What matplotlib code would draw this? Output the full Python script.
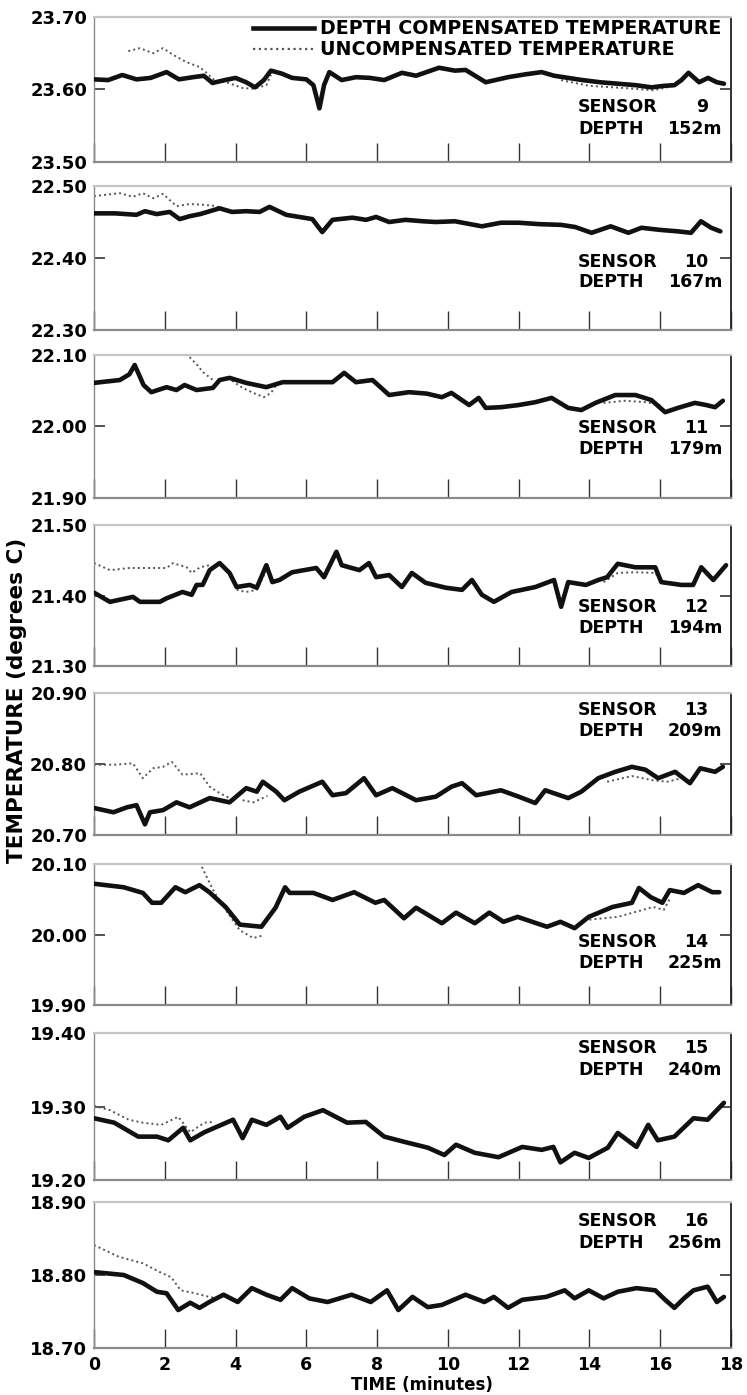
import numpy as np
import matplotlib
matplotlib.use("Agg")
import matplotlib.pyplot as plt
from matplotlib.lines import Line2D

nan = np.nan

# ---------------------------------------------------------------- data
sensors = [9, 10, 11, 12, 13, 14, 15, 16]
depths = ["152m", "167m", "179m", "194m", "209m", "225m", "240m", "256m"]
y_ranges = [(23.50, 23.70), (22.30, 22.50), (21.90, 22.10), (21.30, 21.50),
            (20.70, 20.90), (19.90, 20.10), (19.20, 19.40), (18.70, 18.90)]
x_ticks = [0, 2, 4, 6, 8, 10, 12, 14, 16, 18]

# sensor 9
t_comp_9 = [0, 0.4, 0.8, 1.2, 1.6, 2.05, 2.4, 2.8, 3.1, 3.35, 3.7, 4.0, 4.3, 4.55, 4.8,
            5.0, 5.3, 5.6, 6.0, 6.2, 6.37, 6.5, 6.65, 7.0, 7.4, 7.8, 8.2, 8.7, 9.1,
            9.75, 10.2, 10.5, 11.07, 11.7, 12.2, 12.65, 13.0, 13.4, 13.8, 14.3, 14.8,
            15.3, 15.75, 16.1, 16.4, 16.6, 16.8, 17.1, 17.35, 17.6, 17.8]
comp_9 = [23.614, 23.613, 23.620, 23.614, 23.616, 23.624, 23.614, 23.617, 23.619,
          23.609, 23.613, 23.616, 23.610, 23.603, 23.613, 23.626, 23.622, 23.616,
          23.614, 23.606, 23.574, 23.606, 23.624, 23.613, 23.617, 23.616, 23.613,
          23.623, 23.619, 23.630, 23.626, 23.627, 23.610, 23.617, 23.621, 23.624,
          23.619, 23.616, 23.613, 23.610, 23.608, 23.606, 23.603, 23.605, 23.606,
          23.613, 23.623, 23.610, 23.616, 23.610, 23.608]
t_unc_9 = [0.97, 1.3, 1.67, 1.95, 2.23, 2.6, 2.98, 3.18, 3.4, 3.8, 4.2, 4.5, 4.87, 5.0,
           5.05, 13.2, 14.0, 15.0, 15.8, 16.4]
unc_9 = [23.653, 23.657, 23.650, 23.657, 23.648, 23.638, 23.631, 23.623, 23.613,
         23.609, 23.602, 23.601, 23.606, 23.620, nan, 23.613, 23.605, 23.602,
         23.599, 23.605]

# sensor 10
t_comp_10 = [0, 0.6, 1.2, 1.44, 1.77, 2.14, 2.42, 2.7, 3.0, 3.55, 3.9, 4.3, 4.68, 4.96,
             5.43, 5.8, 6.17, 6.45, 6.74, 7.3, 7.69, 7.97, 8.34, 8.8, 9.3, 9.66, 10.2,
             10.96, 11.5, 12.0, 12.6, 13.2, 13.6, 14.06, 14.6, 15.1, 15.47, 16.0, 16.5,
             16.87, 17.15, 17.44, 17.7]
comp_10 = [22.462, 22.462, 22.460, 22.465, 22.461, 22.464, 22.454, 22.458, 22.461,
           22.469, 22.464, 22.465, 22.464, 22.471, 22.460, 22.457, 22.454, 22.436,
           22.453, 22.456, 22.453, 22.457, 22.450, 22.453, 22.451, 22.450, 22.451,
           22.444, 22.449, 22.449, 22.447, 22.446, 22.443, 22.435, 22.444, 22.435,
           22.442, 22.439, 22.437, 22.435, 22.451, 22.442, 22.437]
t_unc_10 = [0, 0.73, 1.1, 1.38, 1.67, 1.95, 2.33, 2.7, 3.07, 3.46, 3.6]
unc_10 = [22.486, 22.490, 22.485, 22.490, 22.483, 22.489, 22.472, 22.475, 22.474,
          22.472, 22.469]

# sensor 11
t_comp_11 = [0, 0.73, 1.0, 1.15, 1.4, 1.62, 2.05, 2.33, 2.56, 2.9, 3.36, 3.55, 3.83,
             4.3, 4.87, 5.33, 6.0, 6.74, 7.07, 7.4, 7.87, 8.34, 8.9, 9.4, 9.83, 10.1,
             10.6, 10.87, 11.07, 11.5, 12.0, 12.47, 12.93, 13.4, 13.77, 14.17, 14.73,
             15.3, 15.75, 16.14, 16.5, 16.98, 17.3, 17.55, 17.77]
comp_11 = [22.061, 22.065, 22.073, 22.086, 22.058, 22.048, 22.055, 22.051, 22.058,
           22.051, 22.054, 22.065, 22.068, 22.061, 22.055, 22.062, 22.062, 22.062,
           22.075, 22.062, 22.065, 22.044, 22.048, 22.046, 22.041, 22.047, 22.030,
           22.040, 22.026, 22.027, 22.030, 22.034, 22.040, 22.026, 22.023, 22.033,
           22.044, 22.044, 22.037, 22.020, 22.026, 22.033, 22.030, 22.027, 22.036]
t_unc_11 = [2.7, 2.9, 3.08, 3.36, 3.6, 3.9, 4.2, 4.5, 4.8, 5.0, 5.15, 5.2,
            14.4, 15.0, 15.6, 16.0]
unc_11 = [22.097, 22.087, 22.076, 22.065, nan, 22.064, 22.054, 22.047, 22.041,
          22.047, 22.058, nan, 22.033, 22.036, 22.034, 22.030]

# sensor 12
t_comp_12 = [0, 0.45, 1.1, 1.3, 1.86, 2.05, 2.5, 2.76, 2.9, 3.07, 3.27, 3.55, 3.83,
             4.03, 4.4, 4.6, 4.87, 5.04, 5.24, 5.6, 6.28, 6.5, 6.85, 7.0, 7.5, 7.77,
             7.97, 8.34, 8.7, 8.98, 9.37, 9.94, 10.4, 10.68, 10.96, 11.3, 11.8, 12.47,
             13.0, 13.2, 13.4, 13.9, 14.25, 14.5, 14.8, 15.3, 15.86, 16.03, 16.6,
             16.93, 17.16, 17.5, 17.86]
comp_12 = [21.404, 21.391, 21.398, 21.391, 21.391, 21.396, 21.405, 21.401, 21.415,
           21.415, 21.436, 21.446, 21.432, 21.412, 21.415, 21.411, 21.443, 21.419,
           21.422, 21.433, 21.439, 21.426, 21.462, 21.443, 21.436, 21.446, 21.426,
           21.429, 21.412, 21.432, 21.418, 21.411, 21.408, 21.422, 21.401, 21.391,
           21.405, 21.412, 21.422, 21.384, 21.419, 21.415, 21.422, 21.426, 21.445,
           21.440, 21.440, 21.419, 21.415, 21.415, 21.440, 21.422, 21.443]
t_unc_12 = [0, 0.45, 1.0, 1.5, 2.05, 2.23, 2.62, 2.76, 3.0, 3.27, 3.5,
            4.03, 4.3, 4.6, 4.87, 4.9, 14.4, 14.8, 15.3, 15.86, 16.0]
unc_12 = [21.446, 21.436, 21.439, 21.439, 21.439, 21.446, 21.440, 21.432, 21.440,
          21.443, nan, 21.408, 21.405, 21.408, 21.436, nan, 21.419, 21.432, 21.433,
          21.432, 21.422]

# sensor 13
t_comp_13 = [0, 0.55, 0.93, 1.2, 1.44, 1.58, 1.95, 2.33, 2.7, 3.27, 3.83, 4.3, 4.6,
             4.77, 5.15, 5.38, 5.8, 6.45, 6.74, 7.12, 7.63, 7.97, 8.43, 9.1, 9.66, 10.1,
             10.4, 10.8, 11.5, 12.0, 12.47, 12.75, 13.4, 13.77, 14.25, 14.73, 15.2,
             15.58, 15.94, 16.42, 16.84, 17.13, 17.55, 17.77]
comp_13 = [20.738, 20.732, 20.739, 20.742, 20.715, 20.732, 20.735, 20.746, 20.739,
           20.752, 20.746, 20.766, 20.761, 20.775, 20.761, 20.749, 20.761, 20.775,
           20.756, 20.759, 20.780, 20.756, 20.766, 20.749, 20.754, 20.768, 20.773,
           20.756, 20.763, 20.754, 20.745, 20.763, 20.752, 20.761, 20.780, 20.789,
           20.796, 20.792, 20.780, 20.789, 20.773, 20.794, 20.789, 20.796]
t_unc_13 = [0, 0.6, 1.1, 1.38, 1.67, 1.95, 2.2, 2.5, 3.0, 3.27, 3.55, 3.83, 3.9,
            4.2, 4.5, 4.9, 5.0, 14.5, 15.2, 15.8, 16.2, 16.6]
unc_13 = [20.799, 20.799, 20.801, 20.780, 20.794, 20.796, 20.803, 20.785, 20.787,
          20.768, 20.759, 20.752, nan, 20.749, 20.746, 20.755, nan, 20.775, 20.783,
          20.777, 20.775, 20.780]

# sensor 14
t_comp_14 = [0, 0.84, 1.38, 1.64, 1.9, 2.3, 2.58, 2.98, 3.26, 3.72, 4.12, 4.73, 5.13,
             5.4, 5.53, 6.2, 6.74, 7.35, 7.95, 8.2, 8.76, 9.1, 9.83, 10.23, 10.76,
             11.17, 11.57, 11.97, 12.5, 12.8, 13.18, 13.58, 13.98, 14.65, 15.2, 15.4,
             15.73, 16.06, 16.27, 16.67, 17.07, 17.47, 17.67]
comp_14 = [20.072, 20.067, 20.059, 20.045, 20.045, 20.067, 20.060, 20.070, 20.060,
           20.039, 20.014, 20.011, 20.038, 20.067, 20.059, 20.059, 20.049, 20.060,
           20.045, 20.049, 20.023, 20.038, 20.016, 20.031, 20.016, 20.031, 20.018,
           20.025, 20.016, 20.011, 20.018, 20.009, 20.025, 20.039, 20.045, 20.066,
           20.053, 20.045, 20.063, 20.059, 20.070, 20.060, 20.060]
t_unc_14 = [3.05, 3.2, 3.4, 3.72, 4.12, 4.5, 4.8, 4.9, 14.0, 14.8, 15.3, 15.8, 16.1, 16.3]
unc_14 = [20.096, 20.080, 20.060, 20.035, 20.006, 19.995, 19.999, nan, 20.021,
          20.025, 20.032, 20.039, 20.035, 20.053]

# sensor 15
t_comp_15 = [0, 0.57, 1.25, 1.78, 2.1, 2.52, 2.72, 3.12, 3.93, 4.2, 4.46, 4.87, 5.27,
             5.47, 5.94, 6.47, 7.15, 7.68, 8.2, 8.76, 9.43, 9.9, 10.23, 10.76, 11.43,
             12.1, 12.65, 12.98, 13.18, 13.58, 13.98, 14.52, 14.8, 15.33, 15.66, 15.93,
             16.4, 16.94, 17.34, 17.8]
comp_15 = [19.284, 19.278, 19.259, 19.259, 19.254, 19.271, 19.254, 19.265, 19.282,
           19.257, 19.282, 19.275, 19.286, 19.271, 19.286, 19.295, 19.278, 19.279,
           19.259, 19.252, 19.244, 19.234, 19.248, 19.237, 19.231, 19.245, 19.241,
           19.245, 19.224, 19.237, 19.230, 19.244, 19.264, 19.245, 19.275, 19.254,
           19.259, 19.284, 19.282, 19.305]
t_unc_15 = [0, 0.45, 0.98, 1.38, 1.9, 2.38, 2.72, 3.12, 3.4]
unc_15 = [19.301, 19.295, 19.282, 19.278, 19.275, 19.286, 19.265, 19.278, 19.279]

# sensor 16
t_comp_16 = [0, 0.84, 1.38, 1.78, 2.05, 2.38, 2.72, 2.98, 3.26, 3.66, 4.06, 4.46, 4.87,
             5.27, 5.6, 6.08, 6.6, 7.28, 7.82, 8.28, 8.6, 9.0, 9.43, 9.83, 10.5, 11.03,
             11.3, 11.7, 12.1, 12.78, 13.3, 13.58, 13.98, 14.4, 14.8, 15.33, 15.86,
             16.14, 16.4, 16.67, 16.94, 17.34, 17.6, 17.8]
comp_16 = [18.804, 18.800, 18.789, 18.777, 18.775, 18.752, 18.762, 18.755, 18.763,
           18.773, 18.763, 18.782, 18.773, 18.766, 18.782, 18.768, 18.763, 18.773,
           18.763, 18.779, 18.752, 18.770, 18.756, 18.759, 18.773, 18.763, 18.770,
           18.755, 18.766, 18.770, 18.779, 18.768, 18.779, 18.768, 18.777, 18.782,
           18.779, 18.766, 18.755, 18.768, 18.779, 18.784, 18.763, 18.770]
t_unc_16 = [0, 0.7, 1.38, 1.9, 2.18, 2.45, 2.85, 3.26, 3.5]
unc_16 = [18.841, 18.825, 18.816, 18.803, 18.797, 18.779, 18.775, 18.770, 18.768]

t_comp = [t_comp_9, t_comp_10, t_comp_11, t_comp_12, t_comp_13, t_comp_14, t_comp_15, t_comp_16]
comp = [comp_9, comp_10, comp_11, comp_12, comp_13, comp_14, comp_15, comp_16]
t_unc = [t_unc_9, t_unc_10, t_unc_11, t_unc_12, t_unc_13, t_unc_14, t_unc_15, t_unc_16]
unc = [unc_9, unc_10, unc_11, unc_12, unc_13, unc_14, unc_15, unc_16]

# ---------------------------------------------------------------- layout
W, H = 747, 1395
panel_px = [(17, 162), (186, 330), (355, 498), (525, 666),
            (693, 835), (864, 1005), (1033, 1180), (1202, 1348)]
left_px, right_px = 94, 731
# vertical placement (axes fraction) of the SENSOR / DEPTH caption lines
caption_y = [(0.38, 0.23), (0.47, 0.33), (0.49, 0.34), (0.42, 0.27),
             (0.88, 0.73), (0.45, 0.30), (0.90, 0.75), (0.87, 0.72)]

plt.rcParams['font.family'] = ['DejaVu Sans']
plt.rcParams['font.weight'] = 'bold'

fig = plt.figure(figsize=(W / 100, H / 100), dpi=100)
fig.patch.set_facecolor('white')

solid_kw = dict(color='#111111', lw=3.3, solid_joinstyle='round',
                solid_capstyle='round', zorder=3)
dot_kw = dict(color='#555555', lw=1.4, linestyle=(0, (1.0, 1.6)), zorder=2)

axes = []
for i, (top, bot) in enumerate(panel_px):
    ax = fig.add_axes([left_px / W, 1 - bot / H, (right_px - left_px) / W, (bot - top) / H])
    axes.append(ax)
    lo, hi = y_ranges[i]
    ax.set_xlim(0, 18)
    ax.set_ylim(lo, hi)

    ax.plot(t_unc[i], unc[i], **dot_kw)
    ax.plot(t_comp[i], comp[i], **solid_kw)

    ax.set_xticks(x_ticks)
    ax.set_yticks([lo, (lo + hi) / 2, hi])
    ax.set_yticklabels([f"{v:.2f}" for v in (lo, (lo + hi) / 2, hi)])
    ax.tick_params(axis='x', direction='in', length=14, width=1.0, color='#333333',
                   top=False, bottom=True, labelbottom=(i == len(panel_px) - 1),
                   labelsize=12.5, pad=6)
    ax.tick_params(axis='y', direction='in', length=8, width=1.3, color='#444444',
                   left=True, right=True, labelsize=13, pad=5)

    ax.spines['top'].set_color('#c4c4c4')
    ax.spines['top'].set_linewidth(1.6)
    ax.spines['bottom'].set_color('#8a8a8a')
    ax.spines['bottom'].set_linewidth(1.6)
    ax.spines['left'].set_color('#8a8a8a')
    ax.spines['left'].set_linewidth(1.0)
    ax.spines['right'].set_color('#222222')
    ax.spines['right'].set_linewidth(1.3)

    ys, yd = caption_y[i]
    x0 = (578 - left_px) / (right_px - left_px)
    xn = (708 - left_px) / (right_px - left_px)
    xd = (722 - left_px) / (right_px - left_px)
    ax.text(x0, ys, "SENSOR", transform=ax.transAxes, ha='left', va='center', fontsize=12.5)
    ax.text(xn, ys, str(sensors[i]), transform=ax.transAxes, ha='right', va='center', fontsize=12.5)
    ax.text(x0, yd, "DEPTH", transform=ax.transAxes, ha='left', va='center', fontsize=12.5)
    ax.text(xd, yd, depths[i], transform=ax.transAxes, ha='right', va='center', fontsize=12.5)

# legend in the top panel
handles = [Line2D([], [], color='#111111', lw=3.3),
           Line2D([], [], color='#555555', lw=1.6, linestyle=(0, (1.0, 1.6)))]
axes[0].legend(handles, ["DEPTH COMPENSATED TEMPERATURE", "UNCOMPENSATED TEMPERATURE"],
               loc='upper left', bbox_to_anchor=((253 - left_px) / (right_px - left_px), 0.985),
               frameon=False, borderpad=0, borderaxespad=0, handlelength=3.2,
               handletextpad=0.3, labelspacing=0.12, fontsize=13.7)

fig.text(17 / W, 1 - 700 / H, "TEMPERATURE (degrees C)", rotation=90,
         ha='center', va='center', fontsize=15.5)
fig.text(422 / W, 1 - 1385 / H, "TIME (minutes)", ha='center', va='center', fontsize=12)

fig.savefig("out.png", dpi=100, facecolor='white')
